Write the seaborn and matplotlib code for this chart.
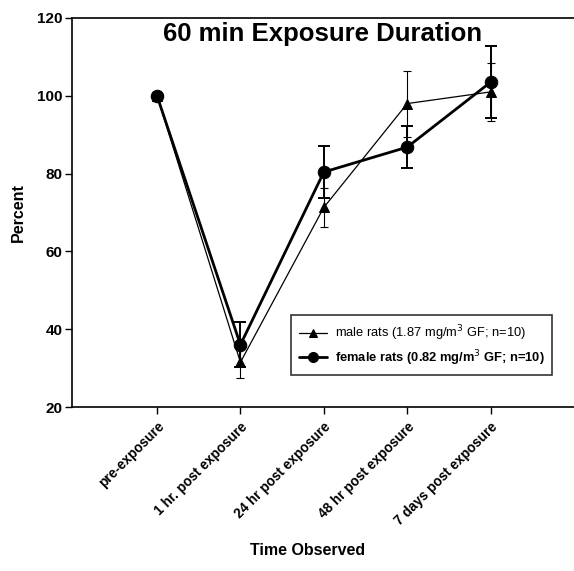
import numpy as np
import pandas as pd
import matplotlib
matplotlib.use("Agg")
import matplotlib.pyplot as plt
import seaborn as sns

# Time points and group means (% of pre-exposure) with standard errors
time_points = ["pre-exposure", "1 hr. post exposure", "24 hr post exposure",
               "48 hr post exposure", "7 days post exposure"]
male_mean = [100.0, 31.5, 71.3, 98.0, 101.0]
male_err = [0.0, 4.0, 5.0, 8.5, 7.4]
female_mean = [100.0, 36.0, 80.4, 86.8, 103.5]
female_err = [0.0, 5.8, 6.7, 5.4, 9.3]

male_label = "male rats (1.87 mg/m$^3$ GF; n=10)"
female_label = "female rats (0.82 mg/m$^3$ GF; n=10)"

sns.set_theme(style="white")
plt.rcParams["font.family"] = ["Liberation Sans", "DejaVu Sans"]
plt.rcParams["text.color"] = "black"
plt.rcParams["axes.labelcolor"] = "black"
plt.rcParams["xtick.color"] = "black"
plt.rcParams["ytick.color"] = "black"

df = pd.DataFrame({
    "pos": list(range(len(time_points))) * 2,
    "value": male_mean + female_mean,
    "group": [male_label] * len(time_points) + [female_label] * len(time_points),
})

fig = plt.figure(figsize=(5.74, 5.71), dpi=100)
ax = fig.add_axes([0.1254, 0.2872, 0.8746, 0.6813])

pos = np.arange(len(time_points))

# Error bars behind the lines
ax.errorbar(pos, male_mean, yerr=male_err, fmt="none", ecolor="black",
            elinewidth=0.8, capsize=3, capthick=0.8, zorder=2)
ax.errorbar(pos, female_mean, yerr=female_err, fmt="none", ecolor="black",
            elinewidth=1.4, capsize=4, capthick=1.4, zorder=2)

sns.lineplot(data=df[df["group"] == male_label], x="pos", y="value", ax=ax,
             color="black", linewidth=0.9, marker="^", markersize=7,
             markeredgecolor="black", label=male_label, zorder=3)
sns.lineplot(data=df[df["group"] == female_label], x="pos", y="value", ax=ax,
             color="black", linewidth=2.0, marker="o", markersize=9,
             markeredgecolor="black", label=female_label, zorder=4)

ax.set_xlim(-1.02, 5.0)
ax.set_ylim(20, 120)
ax.set_yticks([20, 40, 60, 80, 100, 120])
ax.set_xticks(pos)
ax.set_xticklabels(time_points, rotation=45, ha="right", rotation_mode="anchor",
                   fontsize=9.8, fontweight="bold")
for lbl in ax.get_yticklabels():
    lbl.set_fontweight("bold")
    lbl.set_fontsize(11)

ax.tick_params(axis="both", direction="out", length=5, width=1, color="black",
               left=True, bottom=True, pad=2)
ax.tick_params(axis="x", pad=4)

for side in ["left", "bottom", "top"]:
    ax.spines[side].set_visible(True)
    ax.spines[side].set_color("black")
    ax.spines[side].set_linewidth(1.2)
ax.spines["right"].set_visible(False)

ax.set_ylabel("Percent", fontsize=11.5, fontweight="bold", labelpad=8)
ax.set_xlabel("Time Observed", fontsize=11.5, fontweight="bold")
ax.xaxis.set_label_coords(0.47, -0.35)

ax.text(0.5, 0.99, "60 min Exposure Duration", transform=ax.transAxes,
        ha="center", va="top", fontsize=18.5, fontweight="bold")

leg = ax.legend(loc="lower right", bbox_to_anchor=(0.97, 0.065), frameon=True,
                fancybox=False, edgecolor="black", fontsize=9.3, handlelength=2.2,
                borderpad=0.6, labelspacing=0.4, handletextpad=0.6,
                markerscale=0.8)
leg.get_frame().set_linewidth(1.2)
leg.get_texts()[1].set_fontweight("bold")

fig.savefig("out.png", dpi=100, facecolor="white")
